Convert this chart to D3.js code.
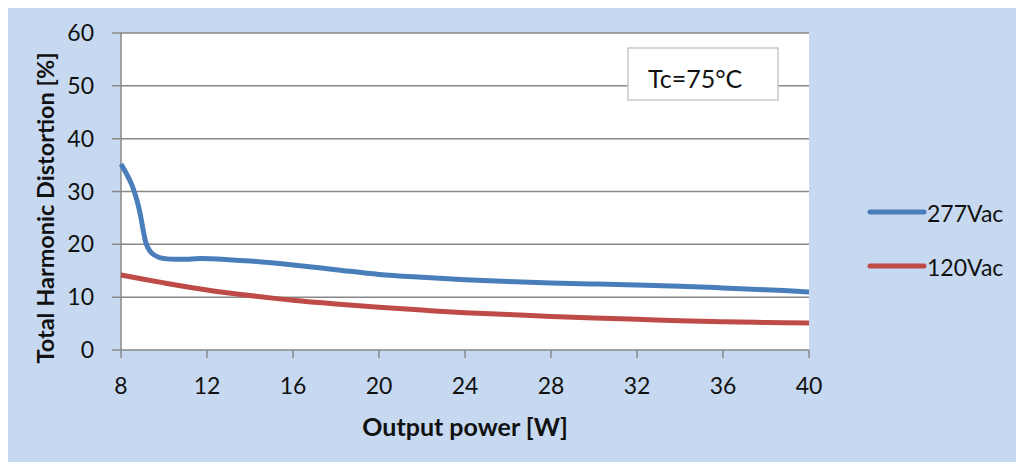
<!DOCTYPE html>
<html><head><meta charset="utf-8">
<script src="https://cdn.jsdelivr.net/npm/d3@7/dist/d3.min.js"></script>
<style>
html,body{margin:0;padding:0;background:#fff;}
svg{display:block;font-family:Lato,"Open Sans",sans-serif;}
</style></head>
<body>
<svg id="chart" width="1016" height="463"></svg>
<script>
// ---- data ----
const power277 = [8, 8.25, 8.5, 8.75, 8.9, 9.05, 9.15, 9.3, 9.5, 9.8, 10.3, 11, 11.7, 13, 14, 16, 18, 20, 22, 24, 26, 28, 30, 32, 34, 36, 38, 40];
const thd277   = [35.2, 33.4, 31.3, 28.2, 25.6, 22.3, 20.4, 19.0, 18.1, 17.5, 17.2, 17.2, 17.3, 17.1, 16.85, 16.1, 15.2, 14.3, 13.75, 13.3, 12.95, 12.7, 12.5, 12.3, 12.05, 11.75, 11.4, 11.0];
const power120 = [8, 10, 12, 14, 16, 18, 20, 22, 24, 26, 28, 30, 32, 34, 36, 38, 40];
const thd120   = [14.2, 12.7, 11.35, 10.3, 9.4, 8.7, 8.1, 7.55, 7.05, 6.7, 6.35, 6.05, 5.8, 5.55, 5.35, 5.2, 5.1];
const xTicks = [8, 12, 16, 20, 24, 28, 32, 36, 40];
const yTicks = [0, 10, 20, 30, 40, 50, 60];
const seriesNames = ["277Vac", "120Vac"];
const seriesColors = ["#4a7ebb", "#be4b48"];
const annotation = "Tc=75°C";
const xTitle = "Output power [W]";
const yTitle = "Total Harmonic Distortion [%]";

const svg = d3.select("#chart");
svg.append("rect").attr("x", 8).attr("y", 8).attr("width", 1008).attr("height", 454).attr("fill", "#c6d9f0");

const pL = 121, pR = 809, pT = 33, pB = 350;
const x = d3.scaleLinear().domain([8, 40]).range([pL, pR]);
const y = d3.scaleLinear().domain([0, 60]).range([pB, pT]);

svg.append("rect").attr("x", pL).attr("y", pT).attr("width", pR - pL).attr("height", pB - pT).attr("fill", "#fff");

const gridColor = "#888";
svg.append("g").selectAll("line").data(yTicks).join("line")
  .attr("x1", pL - 9).attr("x2", pR)
  .attr("y1", d => y(d)).attr("y2", d => y(d))
  .attr("stroke", gridColor).attr("stroke-width", 1.5);

svg.append("line").attr("x1", pL).attr("x2", pL).attr("y1", pT).attr("y2", pB)
  .attr("stroke", gridColor).attr("stroke-width", 1.5);
svg.append("g").selectAll("line").data(xTicks).join("line")
  .attr("x1", d => x(d)).attr("x2", d => x(d))
  .attr("y1", pB).attr("y2", pB + 8)
  .attr("stroke", gridColor).attr("stroke-width", 1.5);

svg.append("g").selectAll("text").data(yTicks).join("text")
  .attr("x", 94).attr("y", d => y(d) + 8)
  .attr("text-anchor", "end").attr("font-size", 23).attr("fill", "#111")
  .text(d => d);
svg.append("g").selectAll("text").data(xTicks).join("text")
  .attr("x", d => x(d)).attr("y", 394)
  .attr("text-anchor", "middle").attr("font-size", 23).attr("fill", "#111")
  .text(d => d);

svg.append("text").attr("x", 465).attr("y", 436).attr("text-anchor", "middle")
  .attr("font-size", 25).attr("font-weight", "bold").attr("fill", "#111").text(xTitle);
svg.append("text").attr("transform", "translate(54,208) rotate(-90)").attr("text-anchor", "middle")
  .attr("font-size", 23.5).attr("font-weight", "bold").attr("fill", "#111").text(yTitle);

svg.append("rect").attr("x", 628).attr("y", 48).attr("width", 150).attr("height", 52)
  .attr("fill", "#fff").attr("stroke", "#c8c8c8").attr("stroke-width", 1.5);
svg.append("text").attr("x", 648).attr("y", 88).attr("font-size", 25).attr("fill", "#111").text(annotation);

const line = d3.line().x(d => x(d[0])).y(d => y(d[1])).curve(d3.curveCatmullRom.alpha(0.5));
const series = [d3.zip(power277, thd277), d3.zip(power120, thd120)];
svg.append("g").selectAll("path").data(series).join("path")
  .attr("d", line).attr("fill", "none")
  .attr("stroke", (d, i) => seriesColors[i]).attr("stroke-width", 5)
  .attr("stroke-linejoin", "round");

const lg = svg.append("g").selectAll("g").data(seriesNames).join("g")
  .attr("transform", (d, i) => `translate(0,${212 + i * 54})`);
lg.append("line").attr("x1", 870).attr("x2", 924).attr("y1", 0).attr("y2", 0)
  .attr("stroke", (d, i) => seriesColors[i]).attr("stroke-width", 5).attr("stroke-linecap", "round");
lg.append("text").attr("x", 927).attr("y", 10).attr("font-size", 23).attr("fill", "#111").text(d => d);
</script>
</body></html>
